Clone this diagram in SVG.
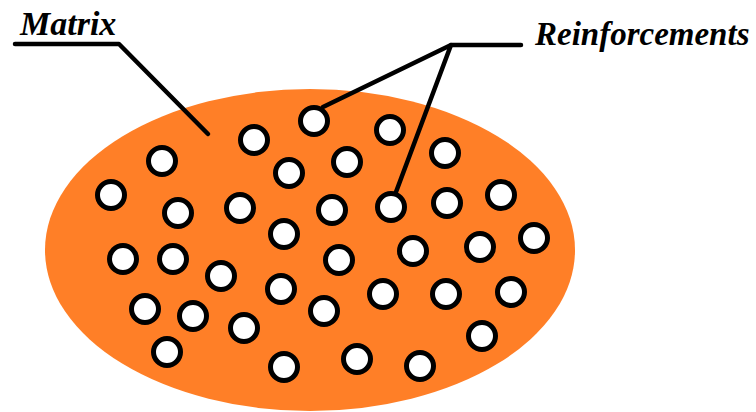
<svg xmlns="http://www.w3.org/2000/svg" width="756" height="412" viewBox="0 0 756 412">
<defs>
<style>
.lbl{font-family:"Liberation Serif","Times New Roman",serif;font-weight:bold;font-style:italic;font-size:33px;fill:#000}
.ln{fill:none;stroke:#000;stroke-width:4.5;stroke-linecap:round;stroke-linejoin:round}
.p{fill:#fff;stroke:#000;stroke-width:5}
</style>
<circle id="pt" r="13.5" class="p"/>
</defs>
<rect width="756" height="412" fill="#fff"/>
<g id="matrix">
<ellipse cx="310" cy="250" rx="265" ry="161" fill="#FF7F27"/>
</g>
<g id="labels">
<text class="lbl" x="20" y="35" style="font-size:34px">Matrix</text>
<text class="lbl" x="535" y="45">Reinforcements</text>
</g>
<g id="connectors">
<path class="ln" d="M15,44 L119,44 L208,134"/>
<path class="ln" d="M521,45 L451,45 L323,107"/>
<path class="ln" d="M451,45 L396,192"/>
</g>
<g id="reinforcements">
<use href="#pt" x="314" y="121"/>
<use href="#pt" x="390" y="130"/>
<use href="#pt" x="254" y="140"/>
<use href="#pt" x="162" y="161"/>
<use href="#pt" x="347" y="162"/>
<use href="#pt" x="445" y="153"/>
<use href="#pt" x="289" y="173"/>
<use href="#pt" x="111" y="195"/>
<use href="#pt" x="501" y="195"/>
<use href="#pt" x="178" y="213"/>
<use href="#pt" x="240" y="208"/>
<use href="#pt" x="332" y="210"/>
<use href="#pt" x="391" y="207"/>
<use href="#pt" x="447" y="203"/>
<use href="#pt" x="284" y="234"/>
<use href="#pt" x="534" y="238"/>
<use href="#pt" x="123" y="259"/>
<use href="#pt" x="173" y="259"/>
<use href="#pt" x="339" y="260"/>
<use href="#pt" x="413" y="251"/>
<use href="#pt" x="480" y="247"/>
<use href="#pt" x="221" y="276"/>
<use href="#pt" x="281" y="289"/>
<use href="#pt" x="383" y="294"/>
<use href="#pt" x="446" y="294"/>
<use href="#pt" x="511" y="292"/>
<use href="#pt" x="145" y="309"/>
<use href="#pt" x="193" y="316"/>
<use href="#pt" x="324" y="311"/>
<use href="#pt" x="244" y="328"/>
<use href="#pt" x="482" y="336"/>
<use href="#pt" x="167" y="352"/>
<use href="#pt" x="284" y="367"/>
<use href="#pt" x="357" y="359"/>
<use href="#pt" x="420" y="366"/>
</g>
</svg>
